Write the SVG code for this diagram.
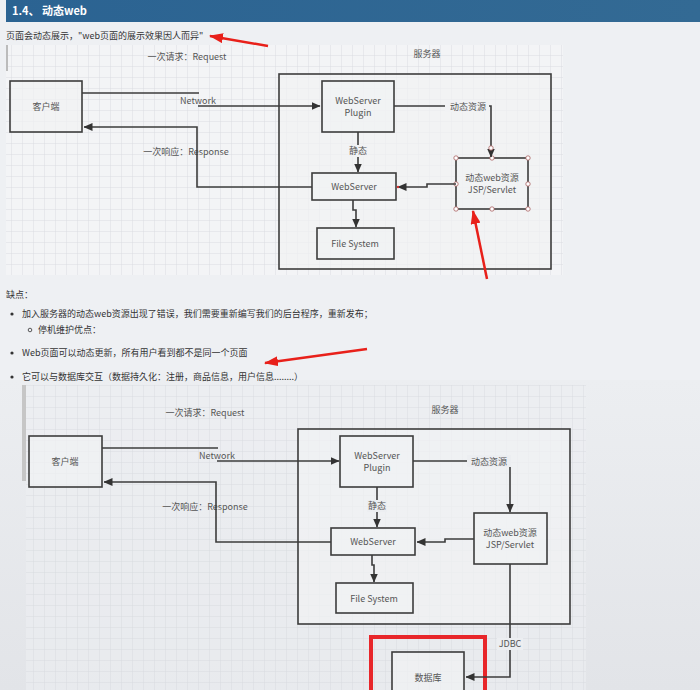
<svg xmlns="http://www.w3.org/2000/svg" width="700" height="690" viewBox="0 0 700 690">
<defs>
<style>
.t{font-family:"Noto Sans CJK SC","Noto Sans",sans-serif;font-size:9px;fill:#555}
.b{font-family:"Noto Sans CJK SC","Noto Sans",sans-serif;font-size:9px;fill:#333}
.box{fill:#f1f2f4;fill-opacity:0.7;stroke:#3c3c3c;stroke-width:1.6}
.ln{fill:none;stroke:#3c3c3c;stroke-width:1.6}
.red{fill:none;stroke:#e8201a;stroke-width:2.5}
.h{fill:#fff;stroke:#a86060;stroke-width:0.8}
</style>
<marker id="ar" markerWidth="9" markerHeight="8" refX="8.5" refY="4" orient="auto" markerUnits="userSpaceOnUse"><path d="M0,0 L9,4 L0,8 z" fill="#333"/></marker>
<marker id="rar" markerWidth="14" markerHeight="10" refX="13" refY="5" orient="auto" markerUnits="userSpaceOnUse"><path d="M0,0 L14,5 L0,10 z" fill="#e8201a"/></marker>
<pattern id="grid" width="11" height="11" patternUnits="userSpaceOnUse"><path d="M11,0 L0,0 L0,11" fill="none" stroke="#d6d8dc" stroke-width="0.8"/></pattern>
<linearGradient id="hd" x1="0" y1="0" x2="1" y2="0"><stop offset="0" stop-color="#2b6392"/><stop offset="1" stop-color="#336a94"/></linearGradient>
<linearGradient id="bg2" x1="0" y1="0" x2="0" y2="1"><stop offset="0" stop-color="#eceef1"/><stop offset="1" stop-color="#e2e4e8"/></linearGradient>
</defs>
<rect x="0" y="0" width="700" height="690" fill="#eef0f3"/>
<rect x="0" y="380" width="700" height="310" fill="url(#bg2)"/>
<rect x="6" y="0" width="694" height="22" fill="url(#hd)"/>
<text x="12" y="15" font-family="'Noto Sans CJK SC','Noto Sans',sans-serif" font-size="11" font-weight="bold" fill="#fff">1.4、 动态web</text>
<text class="b" x="6" y="39">页面会动态展示，"web页面的展示效果因人而异"</text>

<!-- diagram 1 -->
<rect x="6" y="45" width="557" height="230" fill="#f3f4f6"/>
<rect x="6" y="45" width="557" height="230" fill="url(#grid)"/>
<rect x="6" y="45" width="2" height="26" fill="#bbb"/>
<text class="t" x="187" y="60" text-anchor="middle">一次请求：Request</text>
<text class="t" x="186" y="155" text-anchor="middle">一次响应：Response</text>
<text class="t" x="427" y="57" text-anchor="middle">服务器</text>
<g id="server1"><rect class="box" x="279" y="74" width="272" height="195" fill-opacity="0.4"/></g>
<g id="client1"><rect class="box" x="10" y="81" width="72" height="51"/><text class="t" x="46" y="110" text-anchor="middle">客户端</text></g>
<g id="plugin1"><rect class="box" x="322" y="81" width="72" height="51"/><text class="t" x="358" y="104" text-anchor="middle">WebServer</text><text class="t" x="358" y="116" text-anchor="middle">Plugin</text></g>
<g id="webserver1"><rect class="box" x="312" y="173" width="84" height="27"/><text class="t" x="354" y="190" text-anchor="middle">WebServer</text></g>
<g id="fs1"><rect class="box" x="317" y="228" width="77" height="31"/><text class="t" x="355" y="247" text-anchor="middle">File System</text></g>
<g id="servlet1"><rect class="box" x="456" y="158" width="72" height="51" stroke="#5a4848"/><text class="t" x="492" y="181" text-anchor="middle">动态web资源</text><text class="t" x="492" y="193" text-anchor="middle">JSP/Servlet</text>
<circle class="h" cx="456" cy="158" r="2.2"/><circle class="h" cx="492" cy="158" r="2.2"/><circle class="h" cx="528" cy="158" r="2.2"/><circle class="h" cx="456" cy="184" r="2.2"/><circle class="h" cx="528" cy="184" r="2.2"/><circle class="h" cx="456" cy="209" r="2.2"/><circle class="h" cx="492" cy="209" r="2.2"/><circle class="h" cx="528" cy="209" r="2.2"/></g>
<g id="connectors1">
<path class="ln" d="M82,93 H199"/>
<path class="ln" d="M198,106 H320" marker-end="url(#ar)"/>
<path class="ln" d="M312,187 H197 V127 H84" marker-end="url(#ar)"/>
<path class="ln" d="M358,132 V172" marker-end="url(#ar)"/>
<path class="ln" d="M394,106 H491 V157" marker-end="url(#ar)"/>
<path class="ln" d="M456,184 H427 V187 H398" marker-end="url(#ar)"/>
<path class="ln" d="M353,200 V210 H356 V227" marker-end="url(#ar)"/>
<circle class="h" cx="491" cy="148" r="2.2"/>
<circle cx="398" cy="187" r="1.2" fill="#d03030"/>
<rect x="190" y="95" width="18" height="9" fill="#f3f4f6" opacity="0"/>
<text class="t" x="198" y="104" text-anchor="middle">Network</text>
<rect x="445" y="100" width="44" height="12" fill="#f1f2f4"/>
<text class="t" x="468" y="110" text-anchor="middle">动态资源</text>
<rect x="348" y="145" width="20" height="12" fill="#f1f2f4"/>
<text class="t" x="358" y="154" text-anchor="middle">静态</text>
</g>

<!-- text -->
<text class="b" x="6" y="298">缺点：</text>
<circle cx="12" cy="314" r="1.6" fill="#333"/>
<text class="b" x="22" y="317">加入服务器的动态web资源出现了错误，我们需要重新编写我们的后台程序，重新发布；</text>
<circle cx="30" cy="330" r="1.8" fill="none" stroke="#333" stroke-width="0.8"/>
<text class="b" x="38" y="333">停机维护优点：</text>
<circle cx="12" cy="353" r="1.6" fill="#333"/>
<text class="b" x="22" y="356">Web页面可以动态更新，所有用户看到都不是同一个页面</text>
<circle cx="12" cy="377" r="1.6" fill="#333"/>
<text class="b" x="22" y="380">它可以与数据库交互（数据持久化：注册，商品信息，用户信息........）</text>

<!-- diagram 2 -->
<rect x="26" y="385" width="560" height="305" fill="#eceef1" fill-opacity="0.6"/>
<rect x="26" y="385" width="560" height="305" fill="url(#grid)"/>
<rect x="22" y="385" width="4" height="96" fill="#c6c6c6"/>
<text class="t" x="205" y="416" text-anchor="middle">一次请求：Request</text>
<text class="t" x="205" y="510" text-anchor="middle">一次响应：Response</text>
<text class="t" x="445" y="413" text-anchor="middle">服务器</text>
<g id="server2"><rect class="box" x="298" y="429" width="272" height="195" fill-opacity="0.4"/></g>
<g id="client2"><rect class="box" x="29" y="436" width="73" height="51"/><text class="t" x="65" y="465" text-anchor="middle">客户端</text></g>
<g id="plugin2"><rect class="box" x="340" y="436" width="73" height="51"/><text class="t" x="377" y="459" text-anchor="middle">WebServer</text><text class="t" x="377" y="471" text-anchor="middle">Plugin</text></g>
<g id="webserver2"><rect class="box" x="331" y="528" width="84" height="27"/><text class="t" x="373" y="545" text-anchor="middle">WebServer</text></g>
<g id="fs2"><rect class="box" x="336" y="583" width="77" height="30"/><text class="t" x="374" y="602" text-anchor="middle">File System</text></g>
<g id="servlet2"><rect class="box" x="474" y="513" width="73" height="51"/><text class="t" x="510" y="536" text-anchor="middle">动态web资源</text><text class="t" x="510" y="548" text-anchor="middle">JSP/Servlet</text></g>
<g id="db"><rect x="371" y="637" width="114" height="60" fill="none" stroke="#e8262a" stroke-width="4"/><rect class="box" x="392" y="652" width="72" height="50"/><text class="t" x="428" y="681" text-anchor="middle">数据库</text></g>
<g id="connectors2">
<path class="ln" d="M102,448 H218"/>
<path class="ln" d="M217,461 H339" marker-end="url(#ar)"/>
<path class="ln" d="M331,542 H216 V482 H104" marker-end="url(#ar)"/>
<path class="ln" d="M377,487 V527" marker-end="url(#ar)"/>
<path class="ln" d="M413,461 H510 V512" marker-end="url(#ar)"/>
<path class="ln" d="M474,539 H445 V542 H417" marker-end="url(#ar)"/>
<path class="ln" d="M372,555 V565 H374 V582" marker-end="url(#ar)"/>
<path class="ln" d="M510,564 V677 H466" marker-end="url(#ar)"/>
<text class="t" x="217" y="459" text-anchor="middle">Network</text>
<rect x="467" y="455" width="44" height="12" fill="#eceef1"/>
<text class="t" x="489" y="465" text-anchor="middle">动态资源</text>
<rect x="367" y="500" width="20" height="12" fill="#eceef1"/>
<text class="t" x="377" y="509" text-anchor="middle">静态</text>
<rect x="497" y="638" width="26" height="12" fill="#eceef1"/>
<text class="t" x="510" y="647" text-anchor="middle">JDBC</text>
</g>

<!-- red annotation arrows -->
<path class="red" d="M268,46 L210,36" marker-end="url(#rar)"/>
<path class="red" d="M487,279 L473,211" marker-end="url(#rar)"/>
<path class="red" d="M367,349 L265,363" marker-end="url(#rar)"/>
</svg>
